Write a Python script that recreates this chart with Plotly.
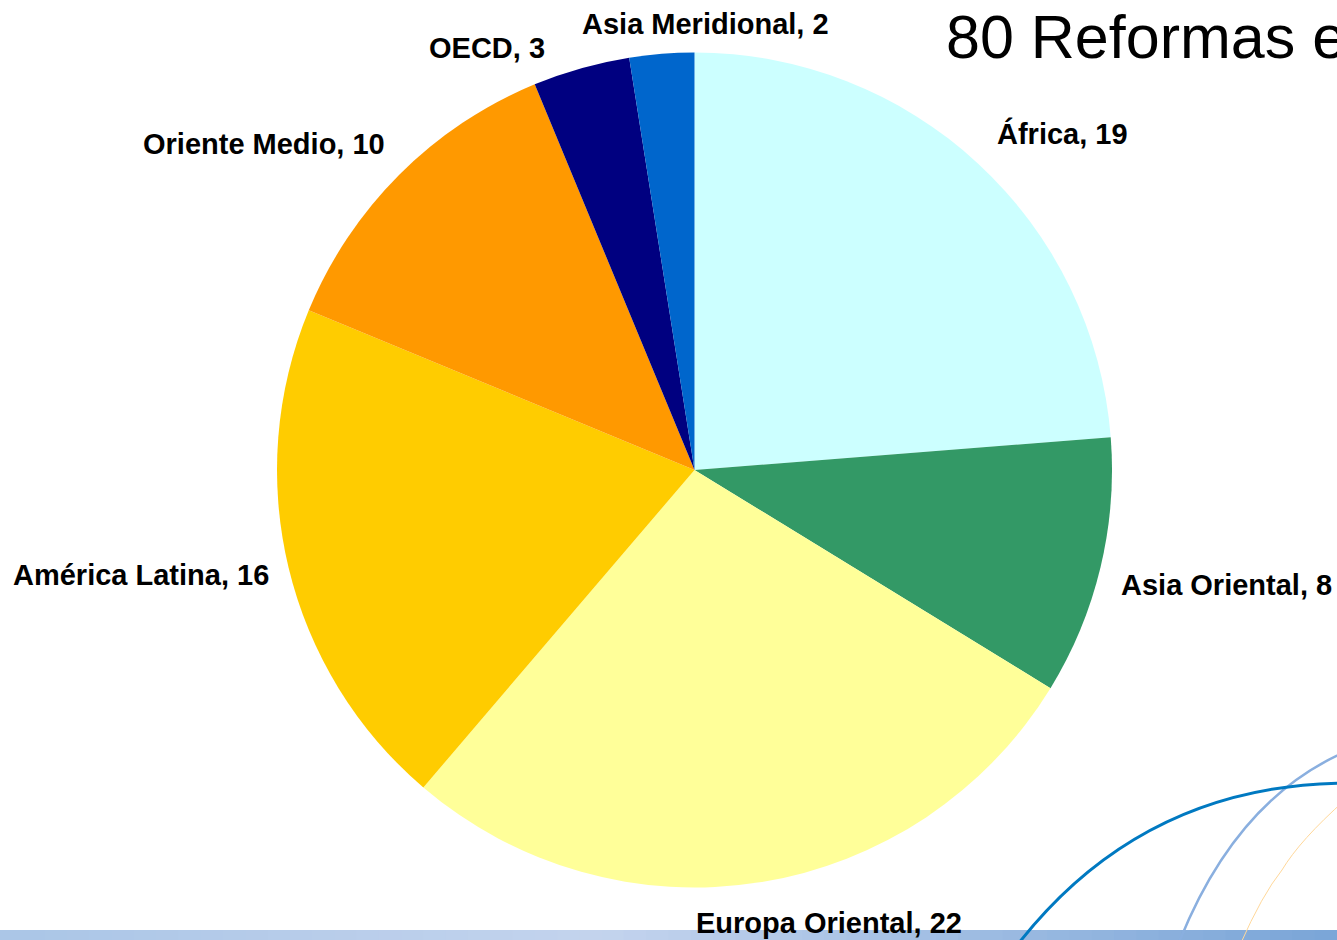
import plotly.graph_objects as go

# datos del gráfico
regiones = ["África", "Asia Oriental", "Europa Oriental", "América Latina",
            "Oriente Medio", "OECD", "Asia Meridional"]
reformas = [19, 8, 22, 16, 10, 3, 2]
colores = ["#ccffff", "#339966", "#ffff99", "#ffcc00", "#ff9900", "#000080", "#0066cc"]

titulo = "80 Reformas en 21 países"

W, H = 1337, 940

# posiciones de las etiquetas (px) y anclaje
etiq_x = [995, 1119, 829, 271, 387, 547, 705]
etiq_y = [133, 585, 923, 575, 144, 48, 24]
etiq_anchor = ["left", "left", "center", "right", "right", "right", "center"]

fig = go.Figure()

fig.add_trace(go.Pie(
    labels=regiones,
    values=reformas,
    marker=dict(colors=colores, line=dict(width=0)),
    sort=False,
    direction="clockwise",
    rotation=0,
    textinfo="none",
    hoverinfo="label+value",
    domain=dict(x=[277 / W, 1112 / W], y=[(H - 888) / H, (H - 52) / H]),
    showlegend=False,
))

# etiquetas "Región, n"
anots = []
for reg, val, ex, ey, anc in zip(regiones, reformas, etiq_x, etiq_y, etiq_anchor):
    anots.append(dict(
        text=f"<b>{reg}, {val}</b>",
        x=ex / W, y=1 - ey / H, xref="paper", yref="paper",
        xanchor=anc, yanchor="middle", showarrow=False,
        font=dict(family="Liberation Sans, Arial", size=29, color="black"),
    ))

# titulo (cortado por el borde derecho como en la diapositiva)
anots.append(dict(
    text=titulo, x=944 / W, y=1 - 37 / H, xref="paper", yref="paper",
    xanchor="left", yanchor="middle", showarrow=False,
    font=dict(family="Liberation Sans, Arial", size=61, color="black"),
))

# barra inferior con degradado
shapes = []
n = 60
for i in range(n):
    t = i / (n - 1)
    if t < 0.45:
        k = t / 0.45
        c0, c1 = (171, 198, 231), (196, 212, 238)
    else:
        k = (t - 0.45) / 0.55
        c0, c1 = (196, 212, 238), (123, 166, 216)
    col = tuple(int(a + (b - a) * k) for a, b in zip(c0, c1))
    shapes.append(dict(
        type="rect", xref="paper", yref="paper",
        x0=i / n, x1=(i + 1) / n + 0.002, y0=0, y1=10 / H,
        fillcolor="rgb(%d,%d,%d)" % col, line=dict(width=0), layer="below",
    ))


def curva(p0, c, p1):
    return "M %f,%f Q %f,%f %f,%f" % (p0[0] / W, 1 - p0[1] / H, c[0] / W, 1 - c[1] / H,
                                      p1[0] / W, 1 - p1[1] / H)


# arcos decorativos de la plantilla
shapes.append(dict(type="path", xref="paper", yref="paper",
                   path=curva((1282, 870), (1300, 840), (1345, 800)),
                   line=dict(color="#ffd89a", width=1), layer="above"))
shapes.append(dict(type="path", xref="paper", yref="paper",
                   path=curva((1240, 945), (1262, 895), (1282, 870)),
                   line=dict(color="#ffd89a", width=1), layer="above"))
shapes.append(dict(type="path", xref="paper", yref="paper",
                   path=curva((1178, 945), (1235, 800), (1345, 752)),
                   line=dict(color="#8aafdf", width=2.5), layer="above"))
shapes.append(dict(type="path", xref="paper", yref="paper",
                   path=curva((1015, 948), (1140, 785), (1345, 783)),
                   line=dict(color="#0079c1", width=3), layer="above"))

fig.update_layout(
    width=W, height=H,
    margin=dict(l=0, r=0, t=0, b=0),
    paper_bgcolor="white",
    plot_bgcolor="white",
    annotations=anots,
    shapes=shapes,
    showlegend=False,
)

# sin margen del body para que la figura llene la ventana
fig.write_html("out.html", config={"displayModeBar": False},
               post_script="document.body.style.margin='0';")
